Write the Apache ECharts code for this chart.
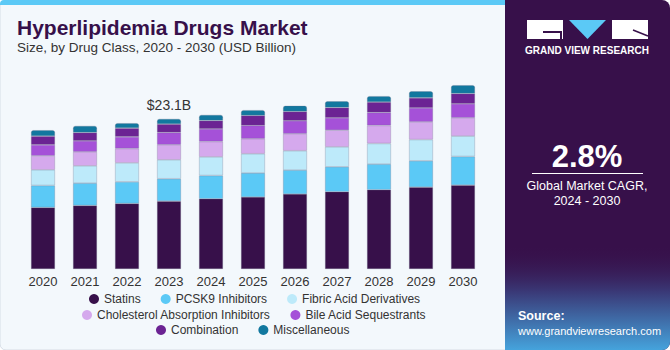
<!DOCTYPE html>
<html>
<head>
<meta charset="utf-8">
<script src="https://cdn.jsdelivr.net/npm/echarts@6/dist/echarts.min.js"></script>
<style>
html,body{margin:0;padding:0;background:#ffffff;}
#chart{width:670px;height:350px;}
</style>
</head>
<body>
<div id="chart"></div>
<script>
// ---- Data (USD Billion) ----
const years = ['2020','2021','2022','2023','2024','2025','2026','2027','2028','2029','2030'];
const statins      = [9.47, 9.77, 10.08, 10.45, 10.80, 11.07, 11.53, 11.88, 12.19, 12.60, 12.91];
const pcsk9        = [3.38, 3.44, 3.33, 3.43, 3.58, 3.69, 3.69, 3.84, 3.95, 4.04, 4.40];
const fibricAcid   = [2.41, 2.66, 2.92, 2.92, 2.87, 2.97, 2.97, 3.07, 3.17, 3.27, 3.14];
const cholAbsorb   = [2.15, 2.15, 2.20, 2.31, 2.35, 2.31, 2.61, 2.57, 2.77, 2.72, 2.81];
const bileAcid     = [1.69, 1.69, 1.80, 1.89, 1.95, 2.04, 2.00, 1.89, 2.00, 2.15, 2.15];
const combination  = [1.34, 1.28, 1.34, 1.29, 1.28, 1.54, 1.43, 1.58, 1.60, 1.54, 1.58];
const miscellaneous= [0.92, 1.03, 0.77, 0.81, 0.88, 0.83, 0.88, 0.98, 0.92, 1.03, 1.29];
const seriesNames = ['Statins','PCSK9 Inhibitors','Fibric Acid Derivatives','Cholesterol Absorption Inhibitors','Bile Acid Sequestrants','Combination','Miscellaneous'];
const seriesData = [statins, pcsk9, fibricAcid, cholAbsorb, bileAcid, combination, miscellaneous];
const highlightYear = '2023';
const highlightLabel = '$23.1B';
const cagrText = '2.8%';
const cagrCaption1 = 'Global Market CAGR,';
const cagrCaption2 = '2024 - 2030';

// ---- Styles ----
const colors = ['#37104a','#5bc9f6','#bdeafa','#d5a9ed','#a551d8','#6b2393','#12789f'];
const FONT = '"Liberation Sans", Arial, sans-serif';

const chart = echarts.init(document.getElementById('chart'), null, {renderer:'svg'});

const series = seriesNames.map((name, i) => ({
  name: name,
  type: 'bar',
  stack: 'total',
  barWidth: 24,
  data: seriesData[i],
  itemStyle: {
    color: colors[i],
    borderColor: 'rgba(110,110,135,0.45)',
    borderWidth: 0.6,
    borderRadius: i === seriesNames.length - 1 ? [2,2,0,0] : 0
  },
  label: i === seriesNames.length - 1 ? {
    show: true,
    position: 'top',
    distance: 7,
    color: '#333',
    fontFamily: FONT,
    fontSize: 14,
    formatter: p => (p.name === highlightYear ? highlightLabel : '')
  } : {show:false},
  emphasis: {disabled: true}
}));

const legendCommon = {
  orient: 'horizontal',
  icon: 'circle',
  itemWidth: 10,
  itemHeight: 10,
  itemGap: 20,
  padding: 0,
  itemStyle: {borderWidth: 0},
  textStyle: {color:'#333', fontSize: 12, fontFamily: FONT},
  selectedMode: false
};

chart.setOption({
  animation: false,
  backgroundColor: '#ffffff',
  grid: {left: 22, right: 186, top: 74, bottom: 81},
  xAxis: {
    type: 'category',
    data: years,
    axisLine: {show:false},
    axisTick: {show:false},
    axisLabel: {color:'#333', fontSize: 13, fontFamily: FONT, margin: 6}
  },
  yAxis: {type:'value', min:0, max:30, show:false, splitLine:{show:false}},
  legend: [
    Object.assign({}, legendCommon, {left: 89, top: 293, data: seriesNames.slice(0,3)}),
    Object.assign({}, legendCommon, {left: 82, top: 309, data: seriesNames.slice(3,5)}),
    Object.assign({}, legendCommon, {left: 156, top: 324, data: seriesNames.slice(5,7)})
  ],
  graphic: [
    // left panel background
    {type:'rect', z:-10, shape:{x:0,y:0,width:510,height:350, r:[6,0,0,6]}, style:{fill:'#f3f8fc', stroke:'#d6dde5', lineWidth:1}},
    {type:'rect', z:-9, shape:{x:0,y:0,width:510,height:5, r:[4,0,0,0]}, style:{fill:'#5bc9f6'}},
    // title
    {type:'text', left:17, top:17, style:{text:'Hyperlipidemia Drugs Market', fill:'#37104a', font:'bold 21px ' + FONT}},
    {type:'text', left:17, top:40.5, style:{text:'Size, by Drug Class, 2020 - 2030 (USD Billion)', fill:'#333', font:'13.5px ' + FONT}},
    // right panel
    {type:'rect', z:-5, shape:{x:505,y:0,width:165,height:350, r:[0,8,8,0]}, style:{fill:'#37104a'}},
    {type:'rect', z:-4, shape:{x:505,y:245,width:165,height:105, r:[0,0,8,0]}, style:{fill:{type:'linear',x:0,y:0,x2:0,y2:1,colorStops:[{offset:0,color:'rgba(55,16,74,0)'},{offset:0.45,color:'#3a3a78'},{offset:1,color:'#45a3dc'}]}}},
    // logo
    {type:'rect', shape:{x:527,y:20,width:36,height:19}, style:{fill:'#ffffff'}},
    {type:'polyline', shape:{points:[[543,32],[561,32],[561,39]]}, style:{stroke:'#37104a', lineWidth:2, fill:null}},
    {type:'polygon', shape:{points:[[569,20],[606,20],[587.5,39]]}, style:{fill:'#5bc9f6'}},
    {type:'rect', shape:{x:612,y:20,width:36,height:19}, style:{fill:'#ffffff'}},
    {type:'line', shape:{x1:633,y1:30,x2:648,y2:36}, style:{stroke:'#37104a', lineWidth:1.5}},
    {type:'text', x:587, y:50, style:{text:'GRAND VIEW RESEARCH', fill:'#ffffff', font:'bold 10px ' + FONT, align:'center', verticalAlign:'middle'}},
    // CAGR
    {type:'text', x:587, y:156, style:{text:cagrText, fill:'#ffffff', font:'bold 31px ' + FONT, align:'center', verticalAlign:'middle'}},
    {type:'line', shape:{x1:532,y1:173.5,x2:643,y2:173.5}, style:{stroke:'#ffffff', lineWidth:1}},
    {type:'text', x:587, y:186, style:{text:cagrCaption1, fill:'#ffffff', font:'12.5px ' + FONT, align:'center', verticalAlign:'middle'}},
    {type:'text', x:587, y:201, style:{text:cagrCaption2, fill:'#ffffff', font:'12.5px ' + FONT, align:'center', verticalAlign:'middle'}},
    // source
    {type:'text', x:518, y:316, style:{text:'Source:', fill:'#ffffff', font:'bold 12.5px ' + FONT, align:'left', verticalAlign:'middle'}},
    {type:'text', x:518, y:331, style:{text:'www.grandviewresearch.com', fill:'#ffffff', font:'11px ' + FONT, align:'left', verticalAlign:'middle'}}
  ],
  series: series
});
</script>
</body>
</html>
